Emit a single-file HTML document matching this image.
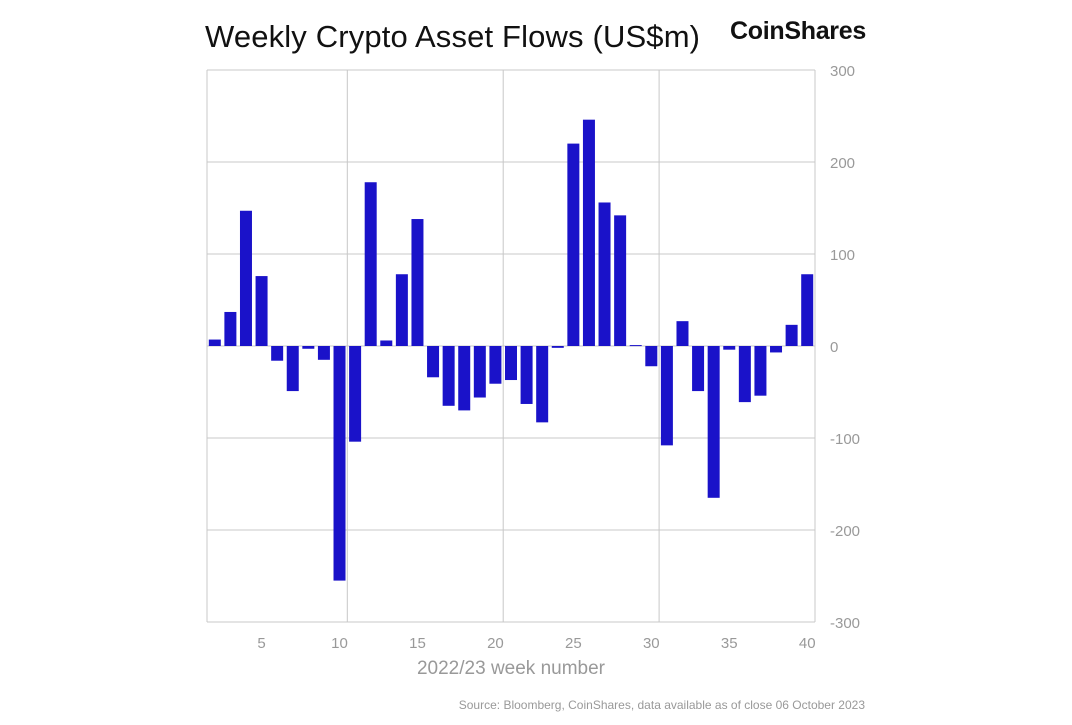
<!DOCTYPE html>
<html><head><meta charset="utf-8"><style>
body{margin:0;background:#fff;width:1072px;height:720px;overflow:hidden;font-family:"Liberation Sans",sans-serif}
</style></head><body>
<svg width="1072" height="720">
<text x="205" y="47" font-size="31" fill="#111" textLength="495">Weekly Crypto Asset Flows (US$m)</text>
<text x="730" y="39" font-size="25" font-weight="bold" fill="#111" letter-spacing="-0.3">CoinShares</text>
<g id="grid"></g>
<g id="bars"></g>
<g id="axes"></g>
<text x="511" y="674" font-size="19" fill="#999" text-anchor="middle">2022/23 week number</text>
<text x="865" y="709" font-size="12" fill="#999" text-anchor="end">Source: Bloomberg, CoinShares, data available as of close 06 October 2023</text>
</svg>
<script>
const weeks=[2,3,4,5,6,7,8,9,10,11,12,13,14,15,16,17,18,19,20,21,22,23,24,25,26,27,28,29,30,31,32,33,34,35,36,37,38,39,40];
const flows=[7,37,147,76,-16,-49,-3,-15,-255,-104,178,6,78,138,-34,-65,-70,-56,-41,-37,-63,-83,-2,220,246,156,142,1,-22,-108,27,-49,-165,-4,-61,-54,-7,23,78];
const yTicks=[300,200,100,0,-100,-200,-300];
const xTicks=[5,10,15,20,25,30,35,40];
const xGrid=[10,20,30];
const L=207,R=815,T=70,B=622;
const x=w=>L+(w-1.5)*(R-L)/39;
const y=v=>T+(300-v)*(B-T)/600;
const ns="http://www.w3.org/2000/svg";
function mk(p,tag,a){const e=document.createElementNS(ns,tag);for(const k in a)e.setAttribute(k,a[k]);p.appendChild(e);return e;}
const g=document.getElementById('grid'),b=document.getElementById('bars'),ax=document.getElementById('axes');
yTicks.forEach(v=>{
 const l=mk(g,'line',{x1:L,x2:R,y1:y(v),y2:y(v),stroke:'#c8c8c8','stroke-width':1});
 
 
 const t=mk(ax,'text',{x:830,y:y(v)+6,'font-size':15,fill:'#999'});
 t.textContent=v;
 
 
});
[L,R].concat(xGrid.map(w=>x(w+0.5))).forEach((px,i)=>{
 const l=mk(g,'line',{x1:px,x2:px,y1:T,y2:B,stroke:'#c8c8c8','stroke-width':1});
 
 
});
weeks.forEach((w,i)=>{
 const v=flows[i];
 const r=mk(b,'rect',{x:x(w)-6,width:12,y:Math.min(y(v),y(0)),height:Math.max(1,Math.abs(y(v)-y(0))),fill:'#1a12c9'});
 
 
});
xTicks.forEach(w=>{
 const t=mk(ax,'text',{x:x(w),y:648,'font-size':15,fill:'#999','text-anchor':'middle'});
 t.textContent=w;
 
 
});
</script>
</body></html>
